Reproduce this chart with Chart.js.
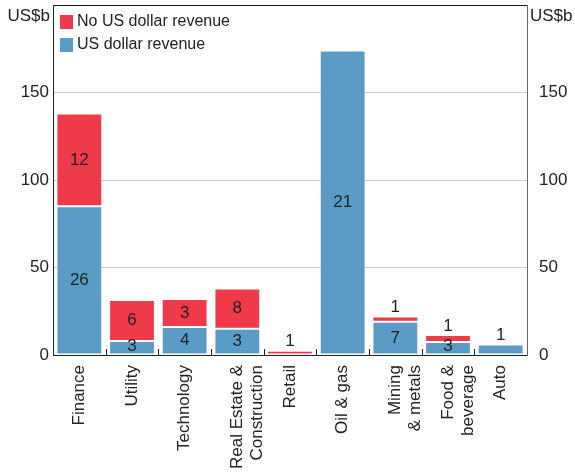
<!DOCTYPE html>
<html>
<head>
<meta charset="UTF-8">
<title>US dollar revenue by sector</title>
<script src="https://cdn.jsdelivr.net/npm/chart.js"></script>
<style>
  body { margin: 0; background: #fff; }
</style>
</head>
<body>
<canvas id="chart" width="575" height="475"></canvas>
<script>
// values in US$b, counts are the numbers printed on the bars
const categories = ['Finance', 'Utility', 'Technology', ['Real Estate &', 'Construction'], 'Retail',
  'Oil & gas', ['Mining', '& metals'], ['Food &', 'beverage'], 'Auto'];
const usdRevenue = [85, 8, 16, 15, 0, 174, 19, 7.5, 6];
const noUsdRevenue = [53, 23.5, 16, 23, 2.5, 0, 3, 4, 0];
const usdCounts = [26, 3, 4, 3, null, 21, 7, 3, 1];
const noUsdCounts = [12, 6, 3, 8, 1, null, 1, 1, null];
const yTicks = [0, 50, 100, 150];
const yMax = 200;

const FONT = "'Liberation Sans', Arial, sans-serif";
const RED = '#ef3a49';
const BLUE = '#5b9cc7';

const extras = {
  id: 'extras',
  afterDatasetsDraw(chart) {
    const ctx = chart.ctx;
    const area = chart.chartArea;
    const x = chart.scales.x;

    // count labels
    ctx.save();
    ctx.font = '17px ' + FONT;
    ctx.fillStyle = '#222';
    ctx.textAlign = 'center';
    ctx.textBaseline = 'middle';
    const counts = [usdCounts, noUsdCounts];
    chart.data.datasets.forEach((ds, di) => {
      const meta = chart.getDatasetMeta(di);
      meta.data.forEach((bar, i) => {
        const n = counts[di][i];
        if (n === null) return;
        const top = Math.min(bar.y, bar.base);
        const h = Math.abs(bar.base - bar.y);
        const isTop = di === 1 || noUsdRevenue[i] === 0;
        if (isTop && h < 12) {
          ctx.fillText(String(n), bar.x, top - 9);
        } else {
          ctx.fillText(String(n), bar.x, Math.min(top + h / 2, area.bottom - 9));
        }
      });
    });
    ctx.restore();

    // inside ticks between categories
    ctx.save();
    ctx.strokeStyle = '#222';
    ctx.lineWidth = 1;
    for (let i = 1; i < categories.length; i++) {
      const px = Math.round((x.getPixelForTick(i - 1) + x.getPixelForTick(i)) / 2) + 0.5;
      ctx.beginPath();
      ctx.moveTo(px, area.bottom);
      ctx.lineTo(px, area.bottom - 6);
      ctx.stroke();
    }
    // frame
    ctx.beginPath();
    ctx.moveTo(area.left, area.top + 0.5);
    ctx.lineTo(area.right, area.top + 0.5);
    ctx.stroke();
    ctx.restore();

    // unit labels
    ctx.save();
    ctx.font = '17px ' + FONT;
    ctx.fillStyle = '#222';
    ctx.textBaseline = 'middle';
    ctx.textAlign = 'right';
    ctx.fillText('US$b', area.left - 3, 16);
    ctx.textAlign = 'left';
    ctx.fillText('US$b', area.right + 3, 16);
    ctx.restore();

    // legend
    ctx.save();
    ctx.font = '16px ' + FONT;
    ctx.textBaseline = 'middle';
    ctx.textAlign = 'left';
    const items = [chart.data.datasets[1], chart.data.datasets[0]];
    items.forEach((ds, k) => {
      const y = 22 + k * 23;
      ctx.fillStyle = ds.backgroundColor;
      ctx.fillRect(area.left + 7, y - 7, 13, 14);
      ctx.fillStyle = '#222';
      ctx.fillText(ds.label, area.left + 24, y);
    });
    ctx.restore();
  }
};

const yCommon = {
  min: 0,
  max: yMax,
  afterBuildTicks: (s) => { s.ticks = yTicks.map(v => ({ value: v })); },
  ticks: {
    font: { family: FONT, size: 17 },
    color: '#222',
    padding: 4
  }
};

function fitY(width) {
  return (s) => {
    s.width = width;
    s.paddingTop = 0;
    s.paddingBottom = 0;
  };
}

new Chart(document.getElementById('chart'), {
  type: 'bar',
  data: {
    labels: categories,
    datasets: [
      {
        label: 'US dollar revenue',
        data: usdRevenue,
        backgroundColor: BLUE,
        borderColor: 'rgba(255,255,255,0.35)',
        borderWidth: 1,
        borderSkipped: false
      },
      {
        label: 'No US dollar revenue',
        data: noUsdRevenue,
        backgroundColor: RED,
        borderColor: 'rgba(255,255,255,0.35)',
        borderWidth: 1,
        borderSkipped: false
      }
    ]
  },
  options: {
    responsive: false,
    animation: false,
    layout: { padding: { top: 5, left: 0, right: 0, bottom: 0 } },
    datasets: { bar: { barPercentage: 0.87, categoryPercentage: 1 } },
    plugins: { legend: { display: false }, tooltip: { enabled: false } },
    scales: {
      x: {
        stacked: true,
        grid: { display: false },
        border: { display: true, color: '#222', width: 1 },
        ticks: {
          font: { family: FONT, size: 17 },
          color: '#222',
          minRotation: 90,
          maxRotation: 90,
          padding: 2,
          autoSkip: false
        },
        afterFit: (s) => { s.height = 120; s.paddingLeft = 0; s.paddingRight = 0; }
      },
      y: Object.assign({}, yCommon, {
        position: 'left',
        stacked: true,
        grid: { color: '#c8c8c8', drawTicks: false },
        border: { display: true, color: '#222', width: 1 },
        afterFit: fitY(53)
      }),
      y2: Object.assign({}, yCommon, {
        position: 'right',
        grid: { display: false },
        border: { display: true, color: '#666', width: 1 },
        afterFit: fitY(48)
      })
    }
  },
  plugins: [extras]
});
</script>
</body>
</html>
